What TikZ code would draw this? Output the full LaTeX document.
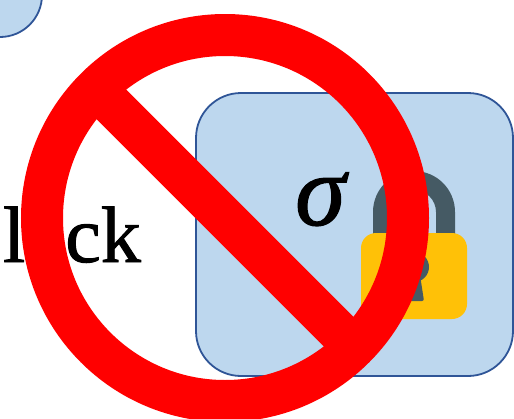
\documentclass[tikz,border=0pt]{standalone}
\usepackage{fontspec}
\newfontfamily\wordfont[RawFeature={embolden=1.2}]{Liberation Serif}
\newfontfamily\sigmafont[RawFeature={embolden=1.2},ItalicFeatures={RawFeature={embolden=1.2}}]{Liberation Serif}
\definecolor{panelfill}{HTML}{BDD7EE}
\definecolor{panelline}{HTML}{2F5597}
\definecolor{lockbody}{HTML}{FFC107}
\definecolor{lockdark}{HTML}{455A64}
\definecolor{banred}{HTML}{FF0000}
\tikzset{
  panel/.style={fill=panelfill,draw=panelline,line width=1.8pt},
  bigtext/.style={inner sep=0pt,text=black,font=\wordfont\fontsize{80}{80}\selectfont},
  sigmatext/.style={inner sep=0pt,text=black,font=\sigmafont\itshape\fontsize{102}{102}\selectfont},
}
\begin{document}
\begin{tikzpicture}[x=1pt,y=-1pt]
\useasboundingbox (0,0) rectangle (514,418);
\clip (0,0) rectangle (514,418);
% partial circle top left
\node[panel,circle,minimum size=84pt,inner sep=0pt] (topcircle) at (0,-5) {};
% key panel
\node[panel,rectangle,rounded corners=45pt,minimum width=317pt,minimum height=283pt,inner sep=0pt] (keypanel) at (354.5,234.5) {};
% word
\node[bigtext,anchor=base east] (word) at (141,262) {Block};
% padlock
\fill[lockdark,even odd rule] (373,240) -- (373,212) arc[start angle=180,end angle=360,radius=41] -- (455,240) -- (436,240) -- (436,212) arc[start angle=360,end angle=180,radius=22] -- (392,240) -- cycle;
\fill[lockbody,rounded corners=15pt] (361,233) rectangle (467,319);
\fill[lockdark] (414,267) circle[radius=15];
\fill[lockdark,rounded corners=2pt] (408,275) -- (420,275) -- (424,301) -- (404,301) -- cycle;
% sigma
\node[sigmatext,anchor=base west] (sigma) at (295,225) {σ};
% prohibition sign
\node[circle,draw=banred,line width=42pt,minimum size=366pt,inner sep=0pt,fill=none] (ban) at (225,218) {};
\draw[banred,line width=42pt,shorten <=20pt,shorten >=20pt] (ban.135) -- (ban.-45);
\end{tikzpicture}
\end{document}
